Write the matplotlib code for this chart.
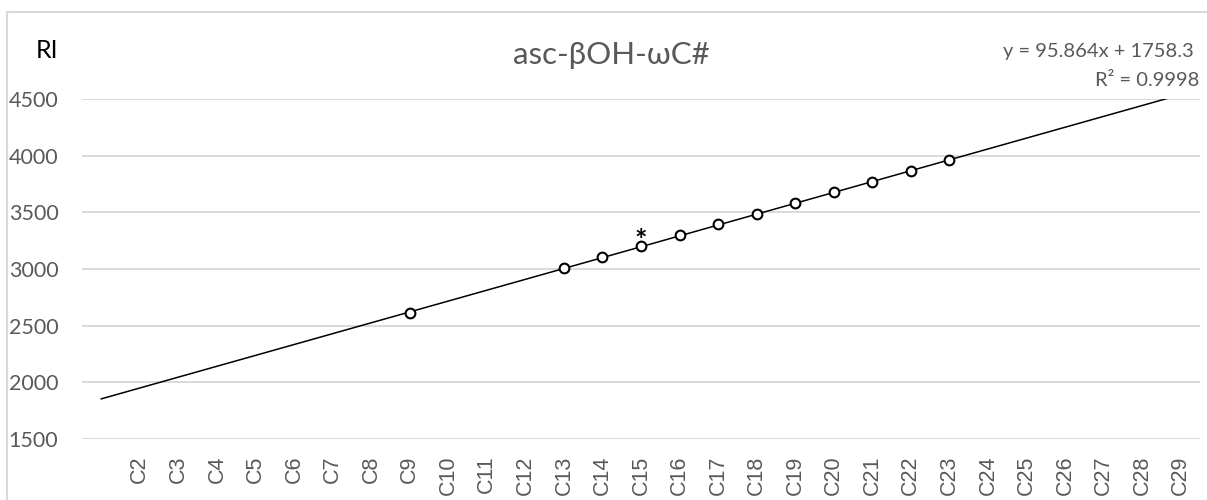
import matplotlib
matplotlib.use("Agg")
import matplotlib.pyplot as plt
from matplotlib.lines import Line2D
import numpy as np

plt.rcParams['font.family'] = ['Lato', 'DejaVu Sans']

# ---- data ----
categories = ["C2", "C3", "C4", "C5", "C6", "C7", "C8", "C9", "C10", "C11", "C12",
              "C13", "C14", "C15", "C16", "C17", "C18", "C19", "C20", "C21", "C22",
              "C23", "C24", "C25", "C26", "C27", "C28", "C29"]
cat_pos = [2, 3, 4, 5, 6, 7, 8, 9, 10, 11, 12, 13, 14, 15, 16, 17, 18, 19, 20,
           21, 22, 23, 24, 25, 26, 27, 28, 29]
carbon = [9, 13, 14, 15, 16, 17, 18, 19, 20, 21, 22, 23]
ri = [2612, 3011, 3108, 3203, 3297, 3394, 3488, 3585, 3679, 3771, 3865, 3959]
slope = 95.864
intercept = 1758.3
r2 = 0.9998
trend_x = [1, 29]
star_carbon = 15
y_ticks = [1500, 2000, 2500, 3000, 3500, 4000, 4500]

W, H = 1207, 500
fig = plt.figure(figsize=(W / 100, H / 100), dpi=100)
ax = fig.add_axes([82 / W, (H - 439) / H, (1200 - 82) / W, (439 - 99) / H])

grey = '#595959'
gridc = '#d9d9d9'

for yv in y_ticks:
    ax.axhline(yv, color=gridc, lw=1.4, zorder=0)

tx = np.array(trend_x, dtype=float)
ax.plot(tx, slope * tx + intercept, color='black', lw=1.1, zorder=2)
ax.plot(carbon, ri, linestyle='none', marker='o', markersize=7,
        markerfacecolor='white', markeredgecolor='black', markeredgewidth=1.5, zorder=3)

star_y = ri[carbon.index(star_carbon)]
ax.annotate('*', xy=(star_carbon, star_y), xytext=(0, -2), textcoords='offset points',
            ha='center', va='baseline', fontsize=21, color='black', fontweight='bold')

ax.set_xlim(0.5, 29.5)
ax.set_ylim(1500, 4500)
ax.set_xticks(cat_pos)
ax.set_xticklabels(categories, rotation=90, color=grey, fontsize=15.5,
                   family=['Liberation Sans', 'DejaVu Sans'])
ax.set_yticks(y_ticks)
ax.set_yticklabels([str(v) for v in y_ticks], color=grey, fontsize=15.5)
ax.tick_params(axis='x', length=0, pad=12)
ax.tick_params(axis='y', length=0, pad=17)
for s in ax.spines.values():
    s.set_visible(False)

fig.text(47 / W, (H - 51) / H, 'RI', ha='center', va='center', fontsize=18, color='black')
fig.text(611 / W, (H - 55) / H, 'asc-βOH-ωC#', ha='center', va='center', fontsize=22.5, color=grey)
fig.text(1194 / W, (H - 52) / H, f'y = {slope}x + {intercept}', ha='right', va='center',
         fontsize=14.5, color=grey)
fig.text(1147 / W, (H - 81) / H, f'R² = {r2}', ha='center', va='center', fontsize=14.5, color=grey)

fig.add_artist(Line2D([7 / W, 7 / W], [0, (H - 12) / H], color=gridc, lw=1.5))
fig.add_artist(Line2D([7 / W, 1], [(H - 12) / H, (H - 12) / H], color=gridc, lw=1.5))

fig.savefig('out.png', dpi=100)
